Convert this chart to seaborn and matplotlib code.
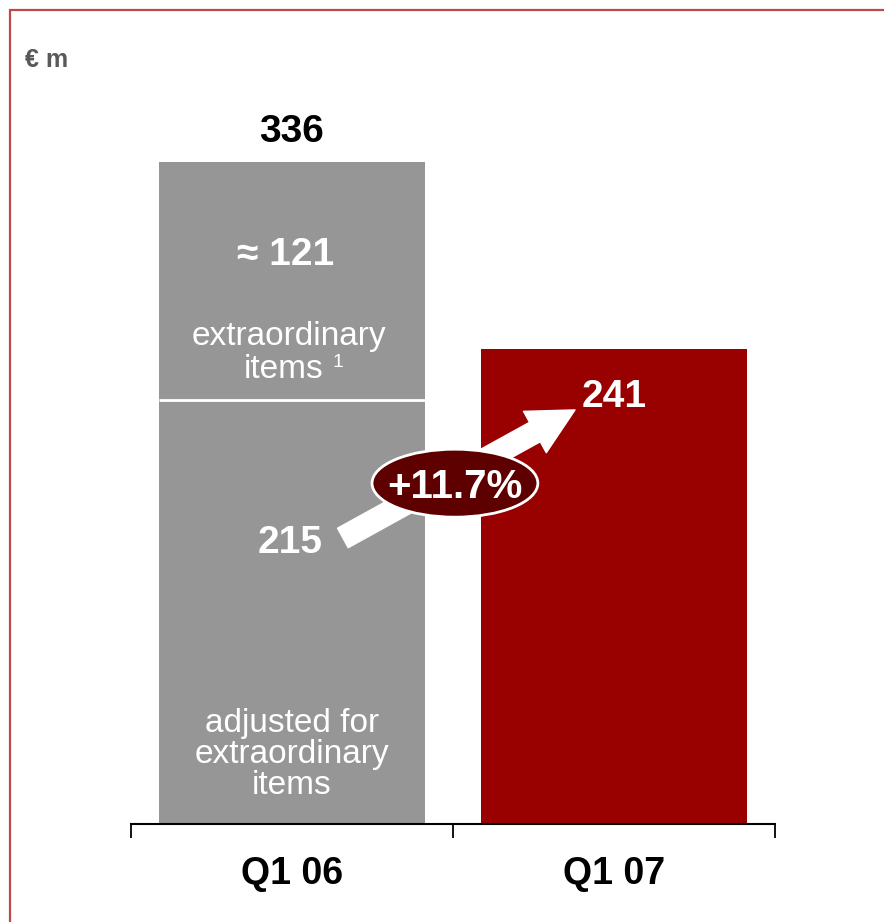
import matplotlib
matplotlib.use("Agg")
import matplotlib.pyplot as plt
from matplotlib.lines import Line2D
from matplotlib.patches import Ellipse
import pandas as pd
import seaborn as sns

# Net income, € m
periods = ["Q1 06", "Q1 07"]
totals = [336, 241]
adjusted = [215, 241]
extraordinary = [121, 0]
growth_label = "+11.7%"

GRAY = "#969696"
RED = "#990000"
DARK_RED = "#5e0000"
FRAME = "#c04848"

sns.set_theme(style="white")
plt.rcParams["font.family"] = ["Liberation Sans", "DejaVu Sans"]

fig = plt.figure(figsize=(8.84, 9.22), dpi=100)
ax = fig.add_axes([131 / 884, 98 / 922, 644 / 884, 380 * 1.97 / 922])

df = pd.DataFrame({"period": periods, "total": totals})
sns.barplot(data=df, x="period", y="total", hue="period", order=periods,
            palette=[GRAY, RED], width=0.823, saturation=1, legend=False,
            edgecolor="none", ax=ax)

ax.set_xlim(-0.5, 1.5)
ax.set_ylim(0, 380)
ax.set_xlabel("")
ax.set_ylabel("")
ax.set_yticks([])
for side in ("left", "top", "right"):
    ax.spines[side].set_visible(False)
ax.spines["bottom"].set_color("black")
ax.spines["bottom"].set_linewidth(1.5)

# separator tick marks between categories, labels on minor ticks
ax.set_xticks([-0.5, 0.5, 1.5])
ax.set_xticklabels(["", "", ""])
ax.tick_params(axis="x", which="major", direction="out", length=10,
               width=1.3, color="black", bottom=True)
ax.set_xticks([0, 1], minor=True)
ax.set_xticklabels(periods, minor=True, fontsize=27, fontweight="bold",
                   color="black")
ax.tick_params(axis="x", which="minor", length=0, pad=23)

# split line between adjusted and extraordinary parts
bar0 = ax.patches[0]
ax.hlines(adjusted[0], bar0.get_x(), bar0.get_x() + bar0.get_width(),
          colors="white", linewidth=2)

# value labels
NUM = dict(ha="center", va="baseline", fontsize=28, fontweight="bold")
TXT = dict(ha="center", va="baseline", fontsize=24, color="white")
ax.text(0, totals[0] + 10, f"{totals[0]}", color="black", **NUM)
ax.text(-0.02, adjusted[0] + 69, f"≈ {extraordinary[0]}", color="white", **NUM)
ax.text(-0.01, 243, "extraordinary", **TXT)
ax.text(-0.025, 226.5, "items", **TXT)
ax.text(0.143, 232, "1", ha="center", va="baseline", fontsize=14, color="white")
ax.text(-0.005, 137.6, f"{adjusted[0]}", color="white", **NUM)
ax.text(0, 46.7, "adjusted for", **TXT)
ax.text(0, 31.0, "extraordinary", **TXT)
ax.text(0, 15.2, "items", **TXT)
ax.text(1.0, 211.7, f"{totals[1]}", color="white", **NUM)

# growth arrow and badge
ax.annotate("", xy=(0.879, 210.2), xytext=(0.158, 145.2),
            arrowprops=dict(arrowstyle="simple,head_width=1.7,head_length=1.65,tail_width=0.8",
                            color="white", shrinkA=0, shrinkB=0,
                            mutation_scale=20), zorder=4)
ax.add_patch(Ellipse((0.506, 173), 0.515, 34.5, facecolor=DARK_RED,
                     edgecolor="white", linewidth=2, zorder=5))
ax.text(0.506, 173, growth_label, ha="center", va="center_baseline",
        fontsize=29, fontweight="bold", color="white", zorder=6)

# unit label and frame
fig.text(25 / 884, 1 - 67 / 922, "€ m", ha="left", va="baseline",
         fontsize=18, fontweight="bold", color="#595959")
fig.add_artist(Line2D([10 / 884, 1], [1 - 10 / 922] * 2,
                      transform=fig.transFigure, color=FRAME, linewidth=1.6))
fig.add_artist(Line2D([10 / 884] * 2, [0, 1 - 10 / 922],
                      transform=fig.transFigure, color=FRAME, linewidth=1.6))

fig.savefig("out.png", dpi=100, facecolor="white")
